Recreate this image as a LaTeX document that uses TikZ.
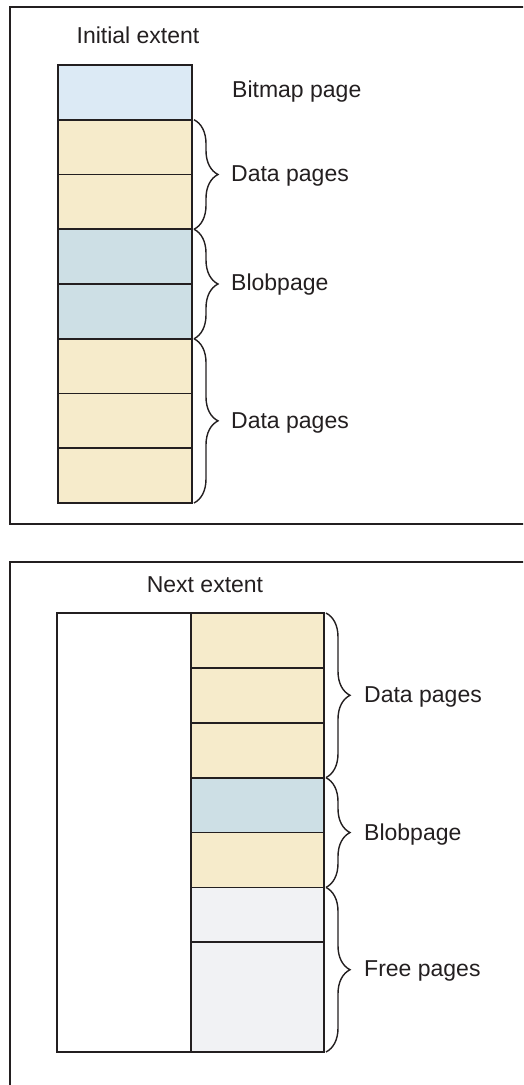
\documentclass[tikz,border=0pt]{standalone}
\usepackage{fontspec}
\setmainfont{Liberation Sans}
\usetikzlibrary{decorations.pathreplacing}
\definecolor{inkgray}{HTML}{231F20}
\definecolor{bitmapblue}{HTML}{DCEAF5}
\definecolor{databeige}{HTML}{F6EBCB}
\definecolor{blobblue}{HTML}{CDDFE5}
\definecolor{freegray}{HTML}{F1F2F4}
\begin{document}
\begin{tikzpicture}
[
    x=1pt, y=-1pt,
    every node/.style={text=inkgray, font=\fontsize{23}{27}\selectfont},
    frame/.style={draw=inkgray, line width=1.6pt},
    page/.style={inner sep=0pt, outer sep=0pt, minimum width=134pt, minimum height=54.75pt},
    edge/.style={draw=inkgray, line width=1.7pt},
    brc/.style={draw=inkgray, line width=1.4pt, decorate, decoration={brace, amplitude=24pt, raise=2pt}},
    lbl/.style={anchor=base west, inner sep=0pt},
    title/.style={anchor=base, inner sep=0pt},
]
\useasboundingbox (0,0) rectangle (523,1085);
\clip (0,0) rectangle (523,1085);

% initial extent
\draw[frame] (10,7) rectangle (540,524);
\node[title] (initial) at (138,43) {Initial extent};
\node[page, fill=bitmapblue] (r1) at (125,92.4) {};
\node[page, fill=databeige] (r2) at (125,147.1) {};
\node[page, fill=databeige] (r3) at (125,201.9) {};
\node[page, fill=blobblue] (r4) at (125,256.6) {};
\node[page, fill=blobblue] (r5) at (125,311.4) {};
\node[page, fill=databeige] (r6) at (125,366.1) {};
\node[page, fill=databeige] (r7) at (125,420.9) {};
\node[page, fill=databeige] (r8) at (125,475.6) {};
\foreach \n in {r1,r2,r3,r4,r5,r6,r7,r8}
    \draw[edge] (\n.north west) rectangle (\n.south east);
\draw[brc] (r2.north east) -- (r3.south east);
\draw[brc] (r4.north east) -- (r5.south east);
\draw[brc] (r6.north east) -- (r8.south east);
\node[lbl] (bitmap) at (232,97) {Bitmap page};
\node[lbl] (data1) at (231,181) {Data pages};
\node[lbl] (blob1) at (231,290) {Blobpage};
\node[lbl] (data2) at (231,428) {Data pages};

% next extent
\draw[frame] (10,562) rectangle (540,1100);
\node[title] (next) at (205,592) {Next extent};
\node[page, minimum height=439pt] (left) at (124,832.5) {};
\node[page, minimum width=133pt, fill=databeige] (q1) at (257.5,640.4) {};
\node[page, minimum width=133pt, fill=databeige] (q2) at (257.5,695.3) {};
\node[page, minimum width=133pt, fill=databeige] (q3) at (257.5,750.2) {};
\node[page, minimum width=133pt, fill=blobblue] (q4) at (257.5,805.1) {};
\node[page, minimum width=133pt, fill=databeige] (q5) at (257.5,860.0) {};
\node[page, minimum width=133pt, fill=freegray] (q6) at (257.5,914.8) {};
\node[page, minimum width=133pt, minimum height=109.75pt, fill=freegray] (q7) at (257.5,997.1) {};
\foreach \n in {left,q1,q2,q3,q4,q5,q6,q7}
    \draw[edge] (\n.north west) rectangle (\n.south east);
\draw[brc] (q1.north east) -- (q3.south east);
\draw[brc] (q4.north east) -- (q5.south east);
\draw[brc] (q6.north east) -- (q7.south east);
\node[lbl] (data3) at (364,702) {Data pages};
\node[lbl] (blob2) at (364,840) {Blobpage};
\node[lbl] (free) at (364,976) {Free pages};
\end{tikzpicture}
\end{document}
